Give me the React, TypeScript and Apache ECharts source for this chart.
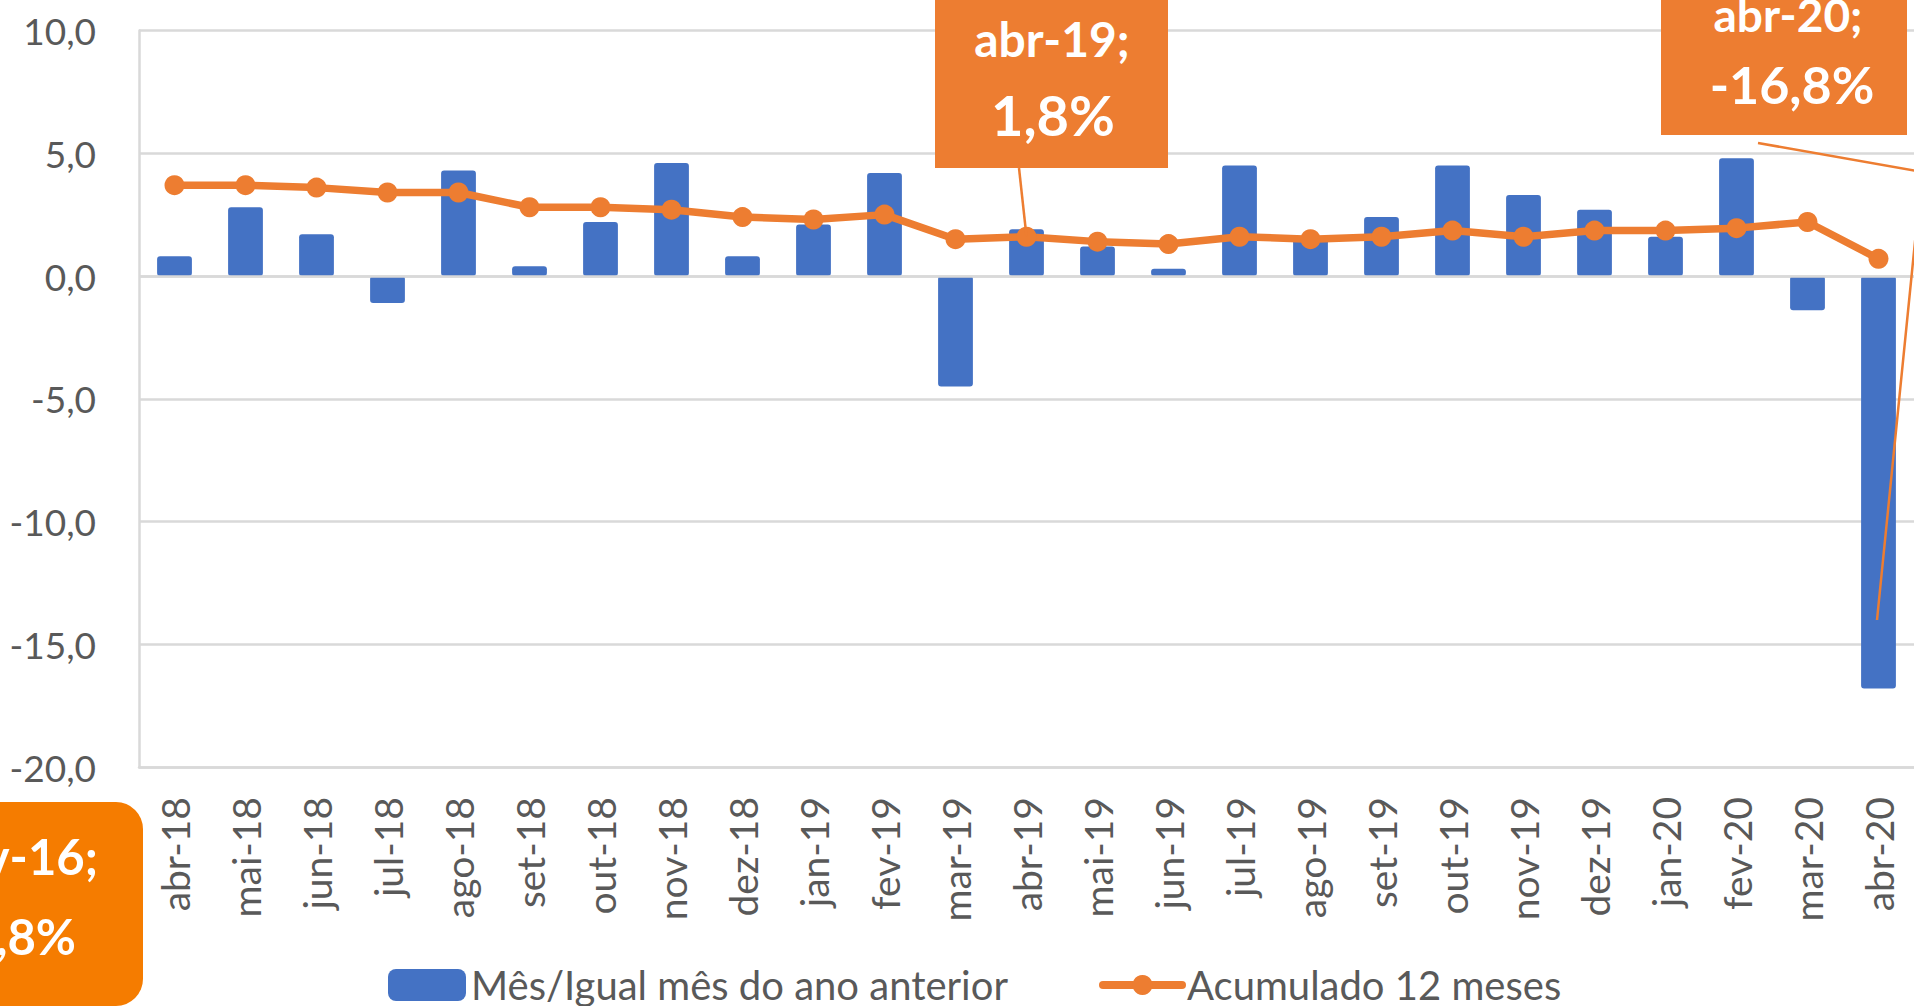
import React, { useEffect, useRef } from 'react';
import * as echarts from 'echarts';

const categories = ['abr-18','mai-18','jun-18','jul-18','ago-18','set-18','out-18','nov-18','dez-18','jan-19','fev-19','mar-19','abr-19','mai-19','jun-19','jul-19','ago-19','set-19','out-19','nov-19','dez-19','jan-20','fev-20','mar-20','abr-20'];
const monthlyValues = [0.8, 2.8, 1.7, -1.1, 4.3, 0.4, 2.2, 4.6, 0.8, 2.1, 4.2, -4.5, 1.9, 1.2, 0.3, 4.5, 1.5, 2.4, 4.5, 3.3, 2.7, 1.6, 4.8, -1.4, -16.8];
const accumulatedValues = [3.7, 3.7, 3.6, 3.4, 3.4, 2.8, 2.8, 2.7, 2.4, 2.3, 2.5, 1.5, 1.6, 1.4, 1.3, 1.6, 1.5, 1.6, 1.85, 1.6, 1.85, 1.85, 1.95, 2.2, 0.7];
const seriesNames = ['Mês/Igual mês do ano anterior', 'Acumulado 12 meses'];
const yMin = -20;
const yMax = 10;
const yInterval = 5;

const callout1 = ['abr-19;', '1,8%'];
const callout2 = ['abr-20;', '-16,8%'];
const callout3 = ['v-16;', ',8%'];

const FONT = 'Lato, "Open Sans", sans-serif';
const ORANGE = '#ED7D31';
const BLUE = '#4472C4';
const GRID = '#D9D9D9';
const TEXT = '#595959';

export default function App() {
  const ref = useRef<HTMLDivElement>(null);
  useEffect(() => {
    if (!ref.current) return;
    const chart = echarts.init(ref.current, undefined, { renderer: 'svg' });
    chart.setOption({
      animation: false,
      textStyle: { fontFamily: FONT },
      grid: { left: 139, top: 30.5, width: 1777, height: 736.5 },
      legend: [
        {
          data: [{ name: seriesNames[0], icon: 'roundRect' }],
          left: 388, top: 965, padding: 0,
          itemWidth: 78, itemHeight: 32,
          textStyle: { color: TEXT, fontSize: 40, lineHeight: 38, fontFamily: FONT },
          selectedMode: false,
        },
        {
          data: [seriesNames[1]],
          left: 1099, top: 965, padding: 0,
          itemWidth: 79, itemHeight: 25,
          lineStyle: { width: 8, cap: 'round' },
          textStyle: { color: TEXT, fontSize: 40, lineHeight: 38, fontFamily: FONT },
          selectedMode: false,
        },
      ],
      xAxis: {
        type: 'category',
        data: categories,
        axisLine: { show: true, onZero: false, lineStyle: { color: GRID, width: 2.5 } },
        axisTick: { show: false },
        axisLabel: { rotate: 90, margin: 30, fontSize: 39, color: TEXT, fontFamily: FONT, interval: 0 },
      },
      yAxis: {
        type: 'value',
        min: yMin, max: yMax, interval: yInterval,
        axisLine: { show: true, lineStyle: { color: GRID, width: 2.5 } },
        axisTick: { show: false },
        splitLine: { show: true, lineStyle: { color: GRID, width: 2.5 } },
        axisLabel: {
          fontSize: 37, color: TEXT, fontFamily: FONT, margin: 43,
          formatter: (v: number) => v.toFixed(1).replace('.', ','),
        },
      },
      series: [
        {
          name: seriesNames[0],
          type: 'bar',
          data: monthlyValues,
          barWidth: '49%',
          itemStyle: { color: BLUE, borderRadius: 3 },
          markLine: {
            silent: true, symbol: 'none', label: { show: false },
            lineStyle: { color: GRID, width: 2.5, type: 'solid' },
            data: [{ yAxis: 0 }],
          },
        },
        {
          name: seriesNames[1],
          type: 'line',
          data: accumulatedValues,
          symbol: 'circle',
          symbolSize: 20,
          lineStyle: { color: ORANGE, width: 7.5 },
          itemStyle: { color: ORANGE },
          z: 3,
        },
      ],
    });

    const p1 = chart.convertToPixel({ xAxisIndex: 0, yAxisIndex: 0 }, [12, accumulatedValues[12]]) as number[];

    chart.setOption({
      graphic: [
        // callout 1
        { type: 'line', z: 90, shape: { x1: 1019, y1: 168, x2: p1[0], y2: p1[1] }, style: { stroke: ORANGE, lineWidth: 2.5 } },
        { type: 'rect', z: 100, shape: { x: 935, y: -20, width: 233, height: 188 }, style: { fill: ORANGE } },
        { type: 'text', z: 101, style: { x: 1052, y: 38, text: callout1[0], fill: '#fff', fontSize: 48, fontWeight: 'bold', fontFamily: FONT, align: 'center', verticalAlign: 'middle' } },
        { type: 'text', z: 101, style: { x: 1053, y: 114, text: callout1[1], fill: '#fff', fontSize: 56, fontWeight: 'bold', fontFamily: FONT, align: 'center', verticalAlign: 'middle' } },
        // callout 2
        { type: 'polyline', z: 90, shape: { points: [[1758, 143], [1922, 172], [1877, 620]] }, style: { stroke: ORANGE, lineWidth: 2.5, fill: 'none' } },
        { type: 'rect', z: 100, shape: { x: 1661, y: -20, width: 246, height: 155 }, style: { fill: ORANGE } },
        { type: 'text', z: 101, style: { x: 1788, y: 14, text: callout2[0], fill: '#fff', fontSize: 46, fontWeight: 'bold', fontFamily: FONT, align: 'center', verticalAlign: 'middle' } },
        { type: 'text', z: 101, style: { x: 1792, y: 84, text: callout2[1], fill: '#fff', fontSize: 52, fontWeight: 'bold', fontFamily: FONT, align: 'center', verticalAlign: 'middle' } },
        // callout 3 (bottom-left, cropped)
        { type: 'rect', z: 100, shape: { x: -40, y: 802, width: 183, height: 204, r: 27 }, style: { fill: '#F57C00' } },
        { type: 'text', z: 101, style: { x: 98, y: 856, text: callout3[0], fill: '#fff', fontSize: 49, fontWeight: 'bold', fontFamily: FONT, align: 'right', verticalAlign: 'middle' } },
        { type: 'text', z: 101, style: { x: 76, y: 936, text: callout3[1], fill: '#fff', fontSize: 49, fontWeight: 'bold', fontFamily: FONT, align: 'right', verticalAlign: 'middle' } },
      ],
    });

    return () => chart.dispose();
  }, []);
  return <div ref={ref} style={{ position: 'fixed', left: 0, top: 0, width: 1914, height: 1006, background: '#fff' }} />;
}
